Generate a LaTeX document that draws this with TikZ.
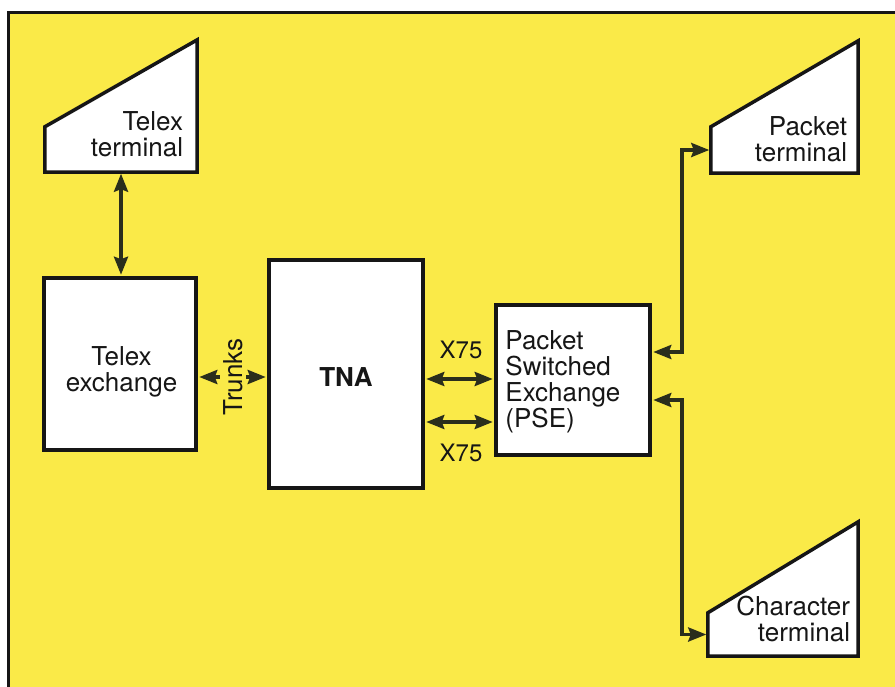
\documentclass[tikz,border=0pt]{standalone}
\usepackage{fontspec}
\setmainfont{TeX Gyre Heros}
\usetikzlibrary{arrows.meta,calc}
\definecolor{bgyellow}{RGB}{250,234,72}
\definecolor{arr}{RGB}{42,46,28}
\definecolor{ink}{RGB}{22,22,22}
\begin{document}
\begin{tikzpicture}[x=1pt,y=-1pt,
  box/.style={draw=ink, line width=3.5pt, fill=white, inner sep=0pt, line join=miter},
  termbox/.style={inner sep=0pt},
  termline/.style={draw=ink, line width=3.5pt, fill=white, line join=miter},
  dbl/.style={draw=arr, line width=3.6pt, line join=miter,
    {Stealth[length=18pt,width=14pt,inset=2.5pt]}-{Stealth[length=18pt,width=14pt,inset=2.5pt]},
    shorten <=1.5pt, shorten >=1.5pt},
  lbl/.style={font=\fontsize{26}{26}\selectfont, inner sep=0pt, text=ink},
  sml/.style={font=\fontsize{24}{26}\selectfont, inner sep=0pt, text=ink}
]
\useasboundingbox (0,0) rectangle (895,686);
\fill[bgyellow] (8,12) rectangle (900,690);
\draw[ink, line width=3pt] (8,690) -- (8,12) -- (900,12);

% terminals (lower rectangular part as node)
\node[termbox, minimum width=152, minimum height=45] (tt) at (121,149.5) {};
\node[termbox, minimum width=147, minimum height=46] (pt) at (784.5,150) {};
\node[termbox, minimum width=150, minimum height=43] (ct) at (783,634.5) {};
\draw[termline] (tt.south west) -- (tt.south east) -- ([yshift=87pt]tt.north east) -- (tt.north west) -- cycle;
\draw[termline] (pt.south west) -- (pt.south east) -- ([yshift=86pt]pt.north east) -- (pt.north west) -- cycle;
\draw[termline] (ct.south west) -- (ct.south east) -- ([yshift=91pt]ct.north east) -- (ct.north west) -- cycle;
\node[lbl, align=right, anchor=south east] (ttl) at ([xshift=-14pt,yshift=15pt]tt.south east) {Telex\\terminal};
\node[lbl, align=right, anchor=south east] (ptl) at ([xshift=-11pt,yshift=11pt]pt.south east) {Packet\\terminal};
\node[lbl, align=right, anchor=south east] (ctl) at ([xshift=-8pt,yshift=14pt]ct.south east) {Character\\terminal};

% boxes
\node[box, minimum width=152, minimum height=172] (tex) at (120,364) {};
\node[lbl, align=center] (texl) at ([xshift=1.5pt,yshift=-8pt]tex.center) {Telex\\exchange};
\node[box, minimum width=154, minimum height=228] (tna) at (346,374) {};
\node[lbl, font=\fontsize{26}{26}\selectfont\bfseries] (tnal) at ([yshift=-3.5pt]tna.center) {TNA};
\node[box, minimum width=154, minimum height=150] (pse) at (573,380) {};
\node[lbl, align=left, anchor=north west] (psel) at ([xshift=11pt,yshift=-27pt]pse.north west) {Packet\\Switched\\Exchange\\(PSE)};

% connectors
\draw[dbl] (tt.south) -- (tt.south |- tex.north);
\draw[dbl] ([yshift=-13pt]tex.east) -- ([yshift=-13pt]tex.east -| tna.west);
\node[lbl, rotate=90, fill=bgyellow, inner sep=3pt] (trk) at (233,377) {Trunks};
\draw[dbl] ([yshift=1pt]pse.west -| tna.east) -- ([yshift=1pt]pse.west);
\draw[dbl] ([yshift=-42pt]pse.west -| tna.east) -- ([yshift=-42pt]pse.west);
\node[sml] (x1) at (461,350) {X75};
\node[sml] (x2) at (461,453) {X75};
\draw[dbl] ([yshift=28pt]pse.east) -- ++(30,0) |- (pt.west);
\draw[dbl] ([yshift=-20pt]pse.east) -- ++(30,0) |- (ct.west);
\end{tikzpicture}
\end{document}
